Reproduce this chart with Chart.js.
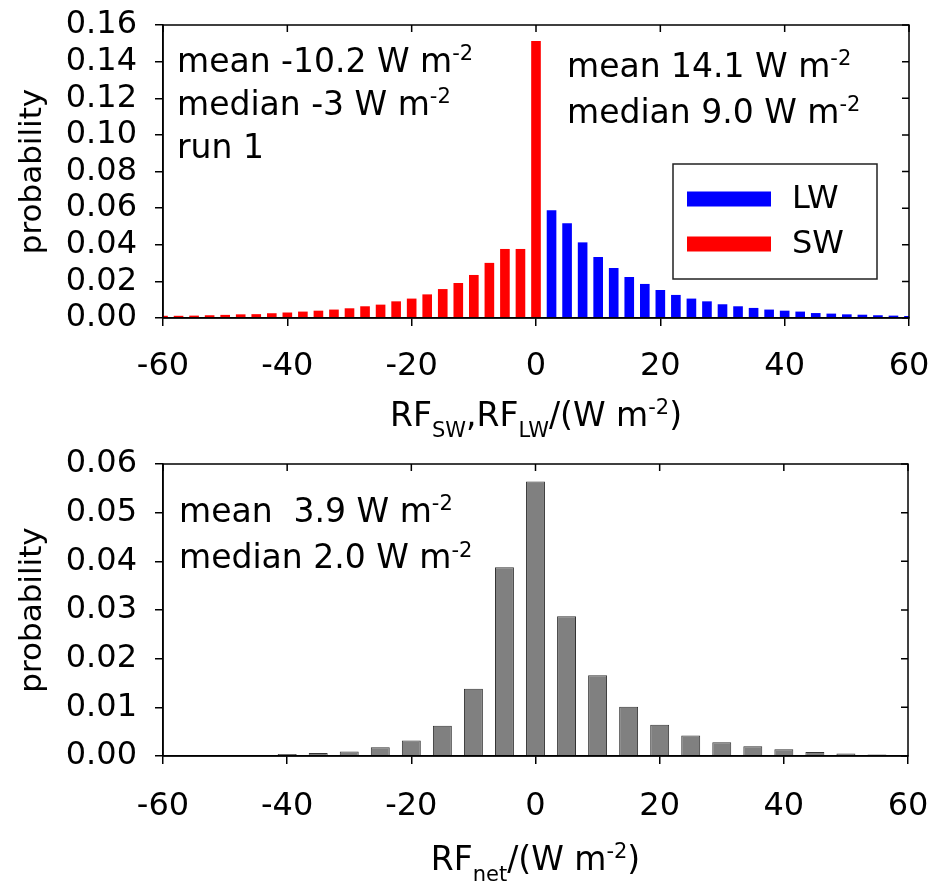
<!DOCTYPE html>
<html>
<head>
<meta charset="utf-8">
<script src="https://cdn.jsdelivr.net/npm/chart.js@4.4.1/dist/chart.umd.min.js"></script>
<style>
  html, body { margin: 0; background: #fff; }
  .panel { position: absolute; left: 0; }
</style>
</head>
<body>
<div class="panel" style="top:0"><canvas id="rf-split" width="931" height="440"></canvas></div>
<div class="panel" style="top:440px"><canvas id="rf-net" width="931" height="447"></canvas></div>
<script>
// bin centres (W m-2) and probabilities
const swBins = [-60, -57.5, -55, -52.5, -50, -47.5, -45, -42.5, -40, -37.5, -35, -32.5, -30,
  -27.5, -25, -22.5, -20, -17.5, -15, -12.5, -10, -7.5, -5, -2.5, 0];
const swProb = [0.0012, 0.0012, 0.0013, 0.0015, 0.0017, 0.0020, 0.0021, 0.0026, 0.0030, 0.0035, 0.0040, 0.0046, 0.0053,
  0.0064, 0.0073, 0.0091, 0.0106, 0.0129, 0.0158, 0.0191, 0.0235, 0.0301, 0.0377, 0.0377, 0.1512];
const lwBins = [2.5, 5, 7.5, 10, 12.5, 15, 17.5, 20, 22.5, 25, 27.5, 30,
  32.5, 35, 37.5, 40, 42.5, 45, 47.5, 50, 52.5, 55, 57.5, 60];
const lwProb = [0.0588, 0.0517, 0.0413, 0.0333, 0.0273, 0.0224, 0.0186, 0.0153, 0.0126, 0.0106, 0.0091, 0.0075,
  0.0064, 0.0055, 0.0046, 0.0040, 0.0035, 0.0027, 0.0024, 0.0020, 0.0018, 0.0015, 0.0013, 0.0011];
const netBins = [-45, -40, -35, -30, -25, -20, -15, -10, -5, 0, 5, 10, 15, 20, 25, 30, 35, 40, 45, 50, 55];
const netProb = [0.0002, 0.0004, 0.0006, 0.0009, 0.0018, 0.0032, 0.0062, 0.0138, 0.0388, 0.0564, 0.0287,
  0.0166, 0.0101, 0.0064, 0.0042, 0.0028, 0.0020, 0.0014, 0.0008, 0.0005, 0.0003];

const FONT = "'DejaVu Sans', sans-serif";
Chart.defaults.font.family = FONT;
Chart.defaults.color = "#000";

const pts = (xs, ys) => xs.map((x, i) => ({ x, y: ys[i] }));

// text with sub/superscripts: parts = [[text, "sub"|"sup"|undefined], ...]
function drawRich(g, parts, x, y, size, align) {
  const small = Math.round(size * 0.64);
  const fontFor = (mode) => `${mode ? small : size}px ${FONT}`;
  let w = 0;
  for (const [t, mode] of parts) { g.font = fontFor(mode); w += g.measureText(t).width; }
  let cx = align === "center" ? x - w / 2 : x;
  for (const [t, mode] of parts) {
    g.font = fontFor(mode);
    const dy = mode === "sup" ? -size * 0.35 : mode === "sub" ? size * 0.33 : 0;
    g.fillText(t, cx, y + dy);
    cx += g.measureText(t).width;
  }
}

// closed box + inward ticks on the top and right edges
const framePlugin = {
  id: "frame",
  afterDraw(chart) {
    const { ctx: g, chartArea: a, scales: { x, y } } = chart;
    g.save();
    g.strokeStyle = "#000";
    g.lineWidth = 1.5;
    g.strokeRect(a.left, a.top, a.right - a.left, a.bottom - a.top);
    g.beginPath();
    for (const t of x.ticks) { const px = x.getPixelForValue(t.value); g.moveTo(px, a.top); g.lineTo(px, a.top + 7); }
    for (const t of y.ticks) { const py = y.getPixelForValue(t.value); g.moveTo(a.right, py); g.lineTo(a.right - 7, py); }
    g.stroke();
    g.restore();
  },
};

function notesPlugin(blocks, title, titleDy) {
  return {
    id: "notes",
    afterDraw(chart) {
      const g = chart.ctx, a = chart.chartArea;
      g.save();
      g.fillStyle = "#000";
      g.textBaseline = "alphabetic";
      g.textAlign = "left";
      for (const b of blocks) {
        b.lines.forEach((parts, i) => drawRich(g, parts, a.left + b.dx, a.top + b.dy + i * b.gap, 33, "left"));
      }
      drawRich(g, title, (a.left + a.right) / 2, a.bottom + titleDy, 33, "center");
      g.restore();
    },
  };
}

// boxed legend inside the plot, one thick line sample per dataset
const boxLegend = {
  id: "boxLegend",
  afterDraw(chart) {
    const g = chart.ctx, a = chart.chartArea;
    const bx = a.right - 236, by = a.top + 139;
    g.save();
    g.strokeStyle = "#222";
    g.lineWidth = 1.5;
    g.strokeRect(bx, by, 204, 115);
    g.font = `32px ${FONT}`;
    g.textBaseline = "middle";
    g.textAlign = "left";
    chart.data.datasets.forEach((ds, i) => {
      const cy = by + 35 + i * 45;
      g.fillStyle = ds.backgroundColor;
      g.fillRect(bx + 14, cy - 7.5, 84, 15);
      g.fillStyle = "#000";
      g.fillText(ds.label, bx + 119, cy + 1);
    });
    g.restore();
  },
};

function scalesFor(yMax, yStep, xAxisHeight, tickPad) {
  return {
    x: {
      type: "linear", min: -60, max: 60, offset: false,
      ticks: { stepSize: 20, font: { size: 32 }, padding: tickPad, maxRotation: 0, autoSkip: false },
      grid: { offset: false, drawOnChartArea: false, tickLength: 8, color: "#000", lineWidth: 1.5 },
      border: { color: "#000", width: 1.5 },
      afterFit: (s) => { s.height = xAxisHeight; s.paddingLeft = 0; s.paddingRight = 0; },
    },
    y: {
      min: 0, max: yMax,
      ticks: { stepSize: yStep, font: { size: 32 }, padding: 18, autoSkip: false, callback: (v) => v.toFixed(2) },
      grid: { drawOnChartArea: false, tickLength: 8, color: "#000", lineWidth: 1.5 },
      border: { color: "#000", width: 1.5 },
      title: { display: true, text: "probability", font: { size: 31 }, padding: { top: 14, bottom: 0 } },
      afterFit: (s) => { s.width = 163; s.paddingTop = 0; s.paddingBottom = 0; },
    },
  };
}

const common = {
  responsive: false,
  animation: false,
  plugins: { legend: { display: false }, tooltip: { enabled: false } },
};

new Chart(document.getElementById("rf-split"), {
  type: "bar",
  data: {
    datasets: [
      { label: "LW", data: pts(lwBins, lwProb), backgroundColor: "#0000ff", grouped: false,
        categoryPercentage: 1, barPercentage: 0.62, clip: 0 },
      { label: "SW", data: pts(swBins, swProb), backgroundColor: "#ff0000", grouped: false,
        categoryPercentage: 1, barPercentage: 0.62, clip: 0 },
    ],
  },
  options: {
    ...common,
    layout: { padding: { top: 25, right: 22, left: 0, bottom: 0 } },
    scales: scalesFor(0.16, 0.02, 122, 21),
  },
  plugins: [framePlugin, boxLegend, notesPlugin([
    { dx: 14, dy: 46.5, gap: 43.3, lines: [
      [["mean -10.2 W m"], ["-2", "sup"]],
      [["median -3 W m"], ["-2", "sup"]],
      [["run 1"]],
    ] },
    { dx: 404, dy: 52, gap: 46, lines: [
      [["mean 14.1 W m"], ["-2", "sup"]],
      [["median 9.0 W m"], ["-2", "sup"]],
    ] },
  ], [["RF"], ["SW", "sub"], [",RF"], ["LW", "sub"], ["/(W m"], ["-2", "sup"], [")"]], 108)],
});

new Chart(document.getElementById("rf-net"), {
  type: "bar",
  data: {
    datasets: [
      { label: "net", data: pts(netBins, netProb), backgroundColor: "#808080", borderColor: "#333",
        borderWidth: 1, grouped: false, categoryPercentage: 1, barPercentage: 0.61, clip: 0 },
    ],
  },
  options: {
    ...common,
    layout: { padding: { top: 24, right: 23, left: 0, bottom: 0 } },
    scales: scalesFor(0.06, 0.01, 131, 23),
  },
  plugins: [framePlugin, notesPlugin([
    { dx: 16, dy: 57.7, gap: 46.6, lines: [
      [["mean  3.9 W m"], ["-2", "sup"]],
      [["median 2.0 W m"], ["-2", "sup"]],
    ] },
  ], [["RF"], ["net", "sub"], ["/(W m"], ["-2", "sup"], [")"]], 114)],
});
</script>
</body>
</html>
